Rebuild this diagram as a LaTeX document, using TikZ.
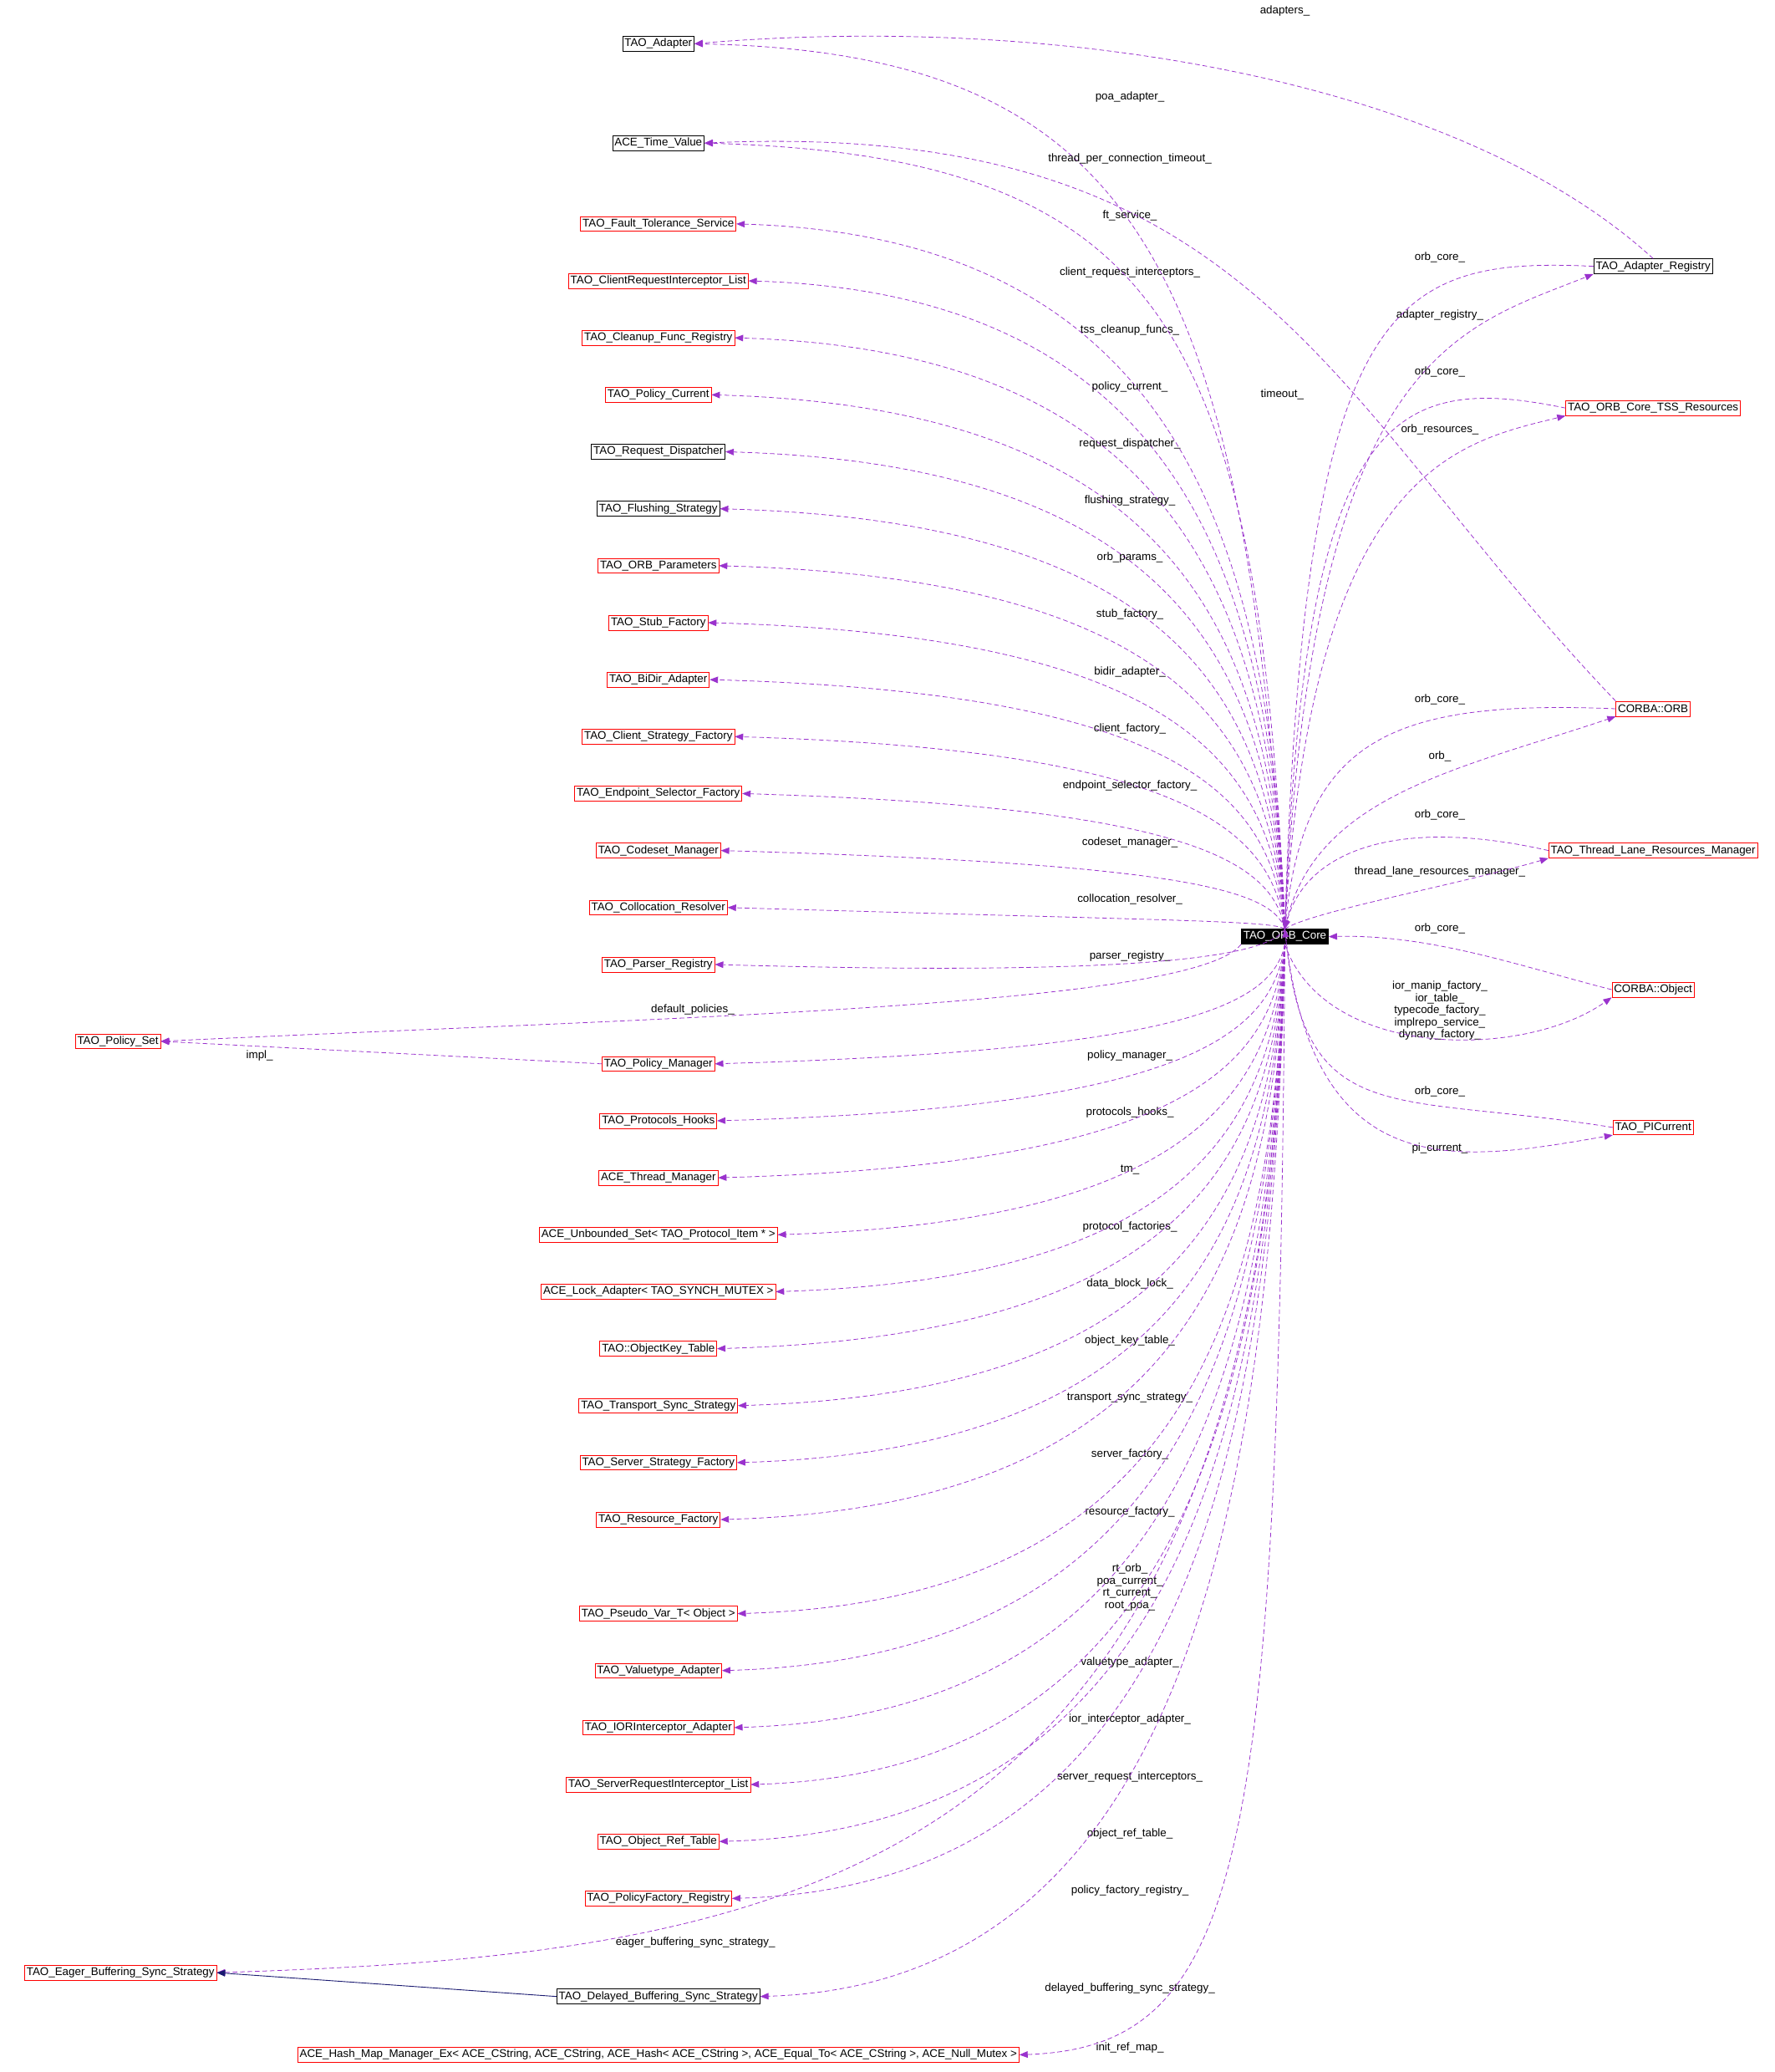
\documentclass[tikz,border=0pt]{standalone}
\usepackage{fontspec}
\setmainfont{Liberation Sans}
\usetikzlibrary{arrows.meta,positioning}
\definecolor{depcol}{HTML}{9A32CD}
\definecolor{inhcol}{HTML}{191970}
\tikzset{
  cls/.style={draw=black,line width=0.6pt,inner sep=2.2pt,minimum height=16pt,font=\fontsize{12}{13}\selectfont},
  clsred/.style={cls,draw=red},
  lbl/.style={font=\fontsize{12}{13}\selectfont,inner sep=1pt,align=center},
  dep/.style={depcol,dash pattern=on 5pt off 3pt,line width=0.7pt,-{Triangle[length=9pt,width=7pt]}},
  inh/.style={inhcol,line width=0.8pt,-{Triangle[length=9pt,width=7pt]}}
}
\begin{document}
\begin{tikzpicture}[x=0.5mm,y=-0.5mm]
	\useasboundingbox (0,0) rectangle (1340,1564);
	%% central class
	\node[cls,fill=black,text=white] (core) at (970,707) {TAO\_ORB\_Core};
	%% members above the core
	\foreach \n/\y/\t/\c/\l in {
		ftser/169/TAO\_Fault\_Tolerance\_Service/clsred/ft\_service\_,
		crint/212/TAO\_ClientRequestInterceptor\_List/clsred/client\_request\_interceptors\_,
		clean/255/TAO\_Cleanup\_Func\_Registry/clsred/tss\_cleanup\_funcs\_,
		pcur/298/TAO\_Policy\_Current/clsred/policy\_current\_,
		rdisp/341/TAO\_Request\_Dispatcher/cls/request\_dispatcher\_,
		flush/384/TAO\_Flushing\_Strategy/cls/flushing\_strategy\_,
		oparm/427/TAO\_ORB\_Parameters/clsred/orb\_params\_,
		stub/470/TAO\_Stub\_Factory/clsred/stub\_factory\_,
		bidir/513/TAO\_BiDir\_Adapter/clsred/bidir\_adapter\_,
		cstrat/556/TAO\_Client\_Strategy\_Factory/clsred/client\_factory\_,
		endp/599/TAO\_Endpoint\_Selector\_Factory/clsred/endpoint\_selector\_factory\_,
		codes/642/TAO\_Codeset\_Manager/clsred/codeset\_manager\_,
		coll/685/TAO\_Collocation\_Resolver/clsred/collocation\_resolver\_,
		pars/728/TAO\_Parser\_Registry/clsred/parser\_registry\_}{
		\node[\c] (\n) at (497,\y) {\t};
		\node[lbl] (\n-l) at (853,\y-6) {\l};
		\draw[dep] (core.north) .. controls (960,{\y+0.45*(707-\y)}) and (890,\y+10) .. (\n.east);
	}
	%% members below the core
	\foreach \n/\y/\t/\c/\l in {
		pman/803/TAO\_Policy\_Manager/clsred/policy\_manager\_,
		phook/846/TAO\_Protocols\_Hooks/clsred/protocols\_hooks\_,
		thrm/889/ACE\_Thread\_Manager/clsred/tm\_,
		uset/932/ACE\_Unbounded\_Set< TAO\_Protocol\_Item * >/clsred/protocol\_factories\_,
		lock/975/ACE\_Lock\_Adapter< TAO\_SYNCH\_MUTEX >/clsred/data\_block\_lock\_,
		okey/1018/TAO::ObjectKey\_Table/clsred/object\_key\_table\_,
		tsync/1061/TAO\_Transport\_Sync\_Strategy/clsred/transport\_sync\_strategy\_,
		sstrat/1104/TAO\_Server\_Strategy\_Factory/clsred/server\_factory\_,
		rfac/1147/TAO\_Resource\_Factory/clsred/resource\_factory\_,
		vtad/1261/TAO\_Valuetype\_Adapter/clsred/valuetype\_adapter\_,
		iorint/1304/TAO\_IORInterceptor\_Adapter/clsred/ior\_interceptor\_adapter\_,
		srint/1347/TAO\_ServerRequestInterceptor\_List/clsred/server\_request\_interceptors\_,
		oref/1390/TAO\_Object\_Ref\_Table/clsred/object\_ref\_table\_,
		pfreg/1433/TAO\_PolicyFactory\_Registry/clsred/policy\_factory\_registry\_,
		delay/1507/TAO\_Delayed\_Buffering\_Sync\_Strategy/cls/delayed\_buffering\_sync\_strategy\_}{
		\node[\c] (\n) at (497,\y) {\t};
		\node[lbl] (\n-l) at (853,\y-6) {\l};
		\draw[dep] (core.south) .. controls (960,{\y-0.45*(\y-707)}) and (890,\y-10) .. (\n.east);
	}
	\node[clsred] (pseudo) at (497,1218) {TAO\_Pseudo\_Var\_T< Object >};
	\node[lbl] (pseudo-l) at (853,1198) {rt\_orb\_\\poa\_current\_\\rt\_current\_\\root\_poa\_};
	\draw[dep] (core.south) .. controls (960,1000) and (890,1208) .. (pseudo.east);
	\node[clsred] (hmap) at (497,1551) {ACE\_Hash\_Map\_Manager\_Ex< ACE\_CString, ACE\_CString, ACE\_Hash< ACE\_CString >, ACE\_Equal\_To< ACE\_CString >, ACE\_Null\_Mutex >};
	\node[lbl] (hmap-l) at (853,1546) {init\_ref\_map\_};
	\draw[dep] (core.south) .. controls (965,1400) and (940,1545) .. (hmap.east);
	%% far left
	\node[clsred] (pset) at (89,786) {TAO\_Policy\_Set};
	\node[lbl] (pset-l) at (523,762) {default\_policies\_};
	\draw[dep] (core.south west) .. controls (900,760) and (500,768) .. (pset.east);
	\node[lbl] (impl-l) at (196,797) {impl\_};
	\draw[dep] (pman.west) -- (pset.east);
	\node[clsred] (eager) at (91,1489) {TAO\_Eager\_Buffering\_Sync\_Strategy};
	\node[lbl] (eager-l) at (525,1466) {eager\_buffering\_sync\_strategy\_};
	\draw[dep] (core.south) .. controls (955,1420) and (600,1475) .. (eager.east);
	\draw[inh] (delay.west) -- (eager.east);
	%% top members
	\node[cls] (adapt) at (497,33) {TAO\_Adapter};
	\node[cls] (tval) at (497,108) {ACE\_Time\_Value};
	\node[lbl] (poa-l) at (853,73) {poa\_adapter\_};
	\draw[dep] (core.north) .. controls (940,200) and (860,40) .. (adapt.east);
	\node[lbl] (tpct-l) at (853,120) {thread\_per\_connection\_timeout\_};
	\draw[dep] (core.north) .. controls (950,250) and (880,118) .. (tval.east);
	%% right side classes
	\node[cls] (areg) at (1248,201) {TAO\_Adapter\_Registry};
	\node[clsred] (tss) at (1248,308) {TAO\_ORB\_Core\_TSS\_Resources};
	\node[clsred] (orb) at (1248,535) {CORBA::ORB};
	\node[clsred] (tlrm) at (1248,642) {TAO\_Thread\_Lane\_Resources\_Manager};
	\node[clsred] (cobj) at (1248,747) {CORBA::Object};
	\node[clsred] (picur) at (1248,851) {TAO\_PICurrent};
	\node[lbl] (adapters-l) at (970,8) {adapters\_};
	\draw[dep] (areg.north) .. controls (1100,60) and (800,10) .. (adapt.east);
	\node[lbl] (timeout-l) at (968,298) {timeout\_};
	\draw[dep] (orb.north west) .. controls (1000,300) and (950,90) .. (tval.east);
	%% right side connectors
	\foreach \n/\ya/\la/\yb/\lb in {
		areg/194/orb\_core\_/238/adapter\_registry\_,
		tss/281/orb\_core\_/324/orb\_resources\_,
		orb/528/orb\_core\_/571/orb\_,
		tlrm/615/orb\_core\_/658/thread\_lane\_resources\_manager\_,
		picur/824/orb\_core\_/867/pi\_current\_}{
		\node[lbl] (\n-la) at (1087,\ya) {\la};
		\node[lbl] (\n-lb) at (1087,\yb) {\lb};
		\draw[dep] (\n.west) .. controls (1050,\ya) and (985,\ya+30) .. (core.north);
		\draw[dep] (core.north) .. controls (990,\yb+30) and (1100,\yb+10) .. (\n.south west);
	}
	\node[lbl] (cobj-la) at (1087,701) {orb\_core\_};
	\draw[dep] (cobj.west) .. controls (1150,730) and (1080,705) .. (core.east);
	\node[lbl] (cobj-lb) at (1087,763) {ior\_manip\_factory\_\\ior\_table\_\\typecode\_factory\_\\implrepo\_service\_\\dynany\_factory\_};
	\draw[dep] (core.south) .. controls (1000,800) and (1150,800) .. (cobj.south west);
\end{tikzpicture}
\end{document}
